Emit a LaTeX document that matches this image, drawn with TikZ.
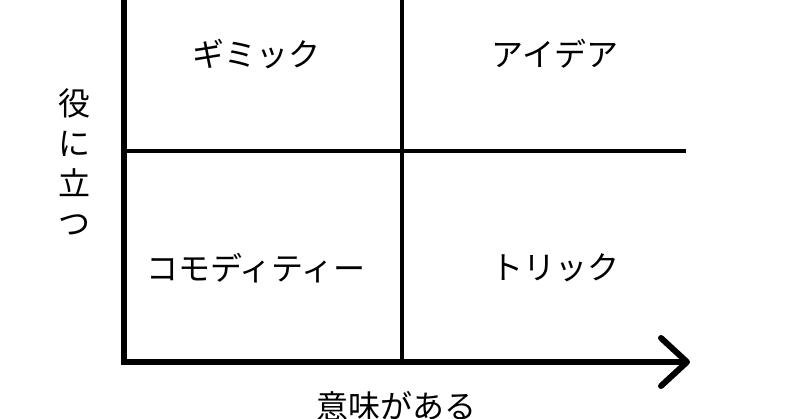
\documentclass[tikz,border=0pt]{standalone}
\usepackage{fontspec}
\newfontfamily\jp{Noto Sans CJK JP}
\usetikzlibrary{arrows.meta}
\begin{document}
\begin{tikzpicture}[x=1pt,y=-1pt,
        axis/.style={line width=6pt,line join=miter},
        grid/.style={line width=4pt},
        label/.style={font=\jp\fontsize{32}{40}\selectfont,inner sep=0pt}]
        \useasboundingbox[fill=white] (0,0) rectangle (800,419);
        \coordinate (top) at (124,-5);
        \coordinate (o) at (124,362);
        \coordinate (tip) at (690,362);
        \coordinate (mt) at (401.5,-5);
        \coordinate (mb) at (401.5,362);
        \coordinate (ml) at (124,151);
        \coordinate (mr) at (686,151);

        \node[label] (gimmick) at (256,54) {ギミック};
        \node[label] (idea) at (555,54) {アイデア};
        \node[label] (commodity) at (256,268) {コモディティー};
        \node[label] (trick) at (555,268) {トリック};
        \node[label,align=center] (useful) at (74,162) {役\\に\\立\\つ};
        \node[label] (meaning) at (396,406) {意味がある};

        \foreach \from / \to in {mt/mb,ml/mr}
            \draw[grid] (\from) -- (\to);
        \draw[axis,-{Straight Barb[length=26pt,width=48pt,round]}] (top) -- (o) -- (tip);
    \end{tikzpicture}
\end{document}
